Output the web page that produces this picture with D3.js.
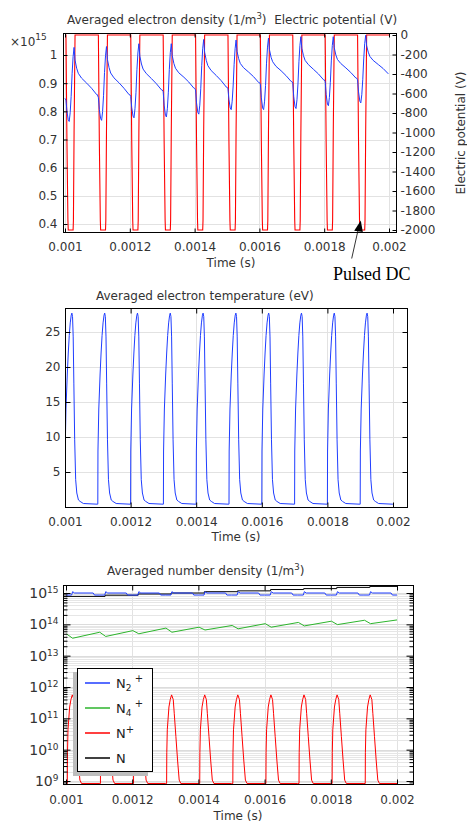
<!DOCTYPE html>
<html>
<head>
<meta charset="utf-8">
<script src="https://cdn.jsdelivr.net/npm/d3@7"></script>
<style>
body { margin: 0; background: #fff; }
text { font-family: "DejaVu Sans", sans-serif; }
text.serif { font-family: "Liberation Serif", "Times New Roman", serif; }
</style>
</head>
<body>
<svg id="chart" width="467" height="822"></svg>
<script>
// pulse periods (s)
var cycleStarts = [0.0010, 0.0011, 0.0012, 0.0013, 0.0014, 0.0015, 0.0016, 0.0017, 0.0018, 0.0019];
var tEnd = 0.002;

var timeTicks = [0.001, 0.0012, 0.0014, 0.0016, 0.0018, 0.002];
var densTicks = [0.4, 0.5, 0.6, 0.7, 0.8, 0.9, 1];
var potTicks = [0, -200, -400, -600, -800, -1000, -1200, -1400, -1600, -1800, -2000];
var teTicks = [5, 10, 15, 20, 25];
var logTicks = [1e9, 1e10, 1e11, 1e12, 1e13, 1e14, 1e15];

// averaged electron density (x1e15 1/m3), sampled at densPhase (us into each period)
var densPhase = [0, 3, 6, 10, 13, 16, 19, 22, 25, 28, 31, 36, 41, 51, 67, 82, 98];
var densCycles = [
    [0.846, 0.840, 0.800, 0.770, 0.764, 0.795, 0.853, 0.935, 0.994, 1.027, 0.982, 0.953, 0.935, 0.918, 0.900, 0.882, 0.859],
    [0.859, 0.849, 0.806, 0.774, 0.768, 0.799, 0.857, 0.938, 0.997, 1.030, 0.984, 0.955, 0.936, 0.919, 0.901, 0.882, 0.859],
    [0.859, 0.853, 0.813, 0.783, 0.777, 0.809, 0.866, 0.948, 1.007, 1.040, 0.996, 0.968, 0.950, 0.934, 0.916, 0.898, 0.876],
    [0.876, 0.870, 0.822, 0.786, 0.780, 0.811, 0.868, 0.949, 1.008, 1.040, 0.998, 0.970, 0.953, 0.937, 0.921, 0.904, 0.882],
    [0.882, 0.876, 0.830, 0.796, 0.790, 0.822, 0.880, 0.962, 1.022, 1.055, 1.010, 0.981, 0.962, 0.945, 0.927, 0.909, 0.886],
    [0.886, 0.880, 0.841, 0.812, 0.806, 0.836, 0.890, 0.967, 1.022, 1.053, 1.013, 0.987, 0.970, 0.955, 0.939, 0.923, 0.902],
    [0.902, 0.896, 0.848, 0.812, 0.806, 0.836, 0.892, 0.971, 1.028, 1.060, 1.019, 0.992, 0.976, 0.960, 0.944, 0.927, 0.906],
    [0.906, 0.900, 0.852, 0.816, 0.810, 0.841, 0.897, 0.976, 1.033, 1.065, 1.024, 0.998, 0.981, 0.966, 0.949, 0.933, 0.912],
    [0.912, 0.906, 0.860, 0.826, 0.820, 0.849, 0.903, 0.979, 1.034, 1.065, 1.026, 1.000, 0.984, 0.970, 0.954, 0.938, 0.918],
    [0.918, 0.912, 0.869, 0.836, 0.830, 0.859, 0.912, 0.986, 1.040, 1.070, 1.033, 1.010, 0.995, 0.981, 0.966, 0.952, 0.933]
];

// electric potential (V), one pulse period
var potPhase = [0, 3, 6, 9, 10, 25, 26, 28, 31];
var potPulse = [0, 0, -1100, -1900, -2000, -2000, -1900, -1000, 0];

// averaged electron temperature (eV), one pulse period
var tePhase = [0, 0.5, 3, 7, 10, 13, 16, 19, 21, 23, 25, 27, 29.5, 32.5, 36, 41, 46, 56, 99];
var tePulse = [0.4, 8, 14, 19, 22, 24.5, 26.3, 27.4, 27.7, 27.2, 24.3, 17.7, 9.6, 3.9, 2, 1, 0.8, 0.5, 0.4];

// number densities (1/m3)
var n2Phase = [0, 17, 20, 26, 82, 86];
var n2Pulse = [8.6e14, 8.6e14, 1.1e15, 1.0e15, 1.0e15, 8.6e14];
var n4Peak = [4.9e13, 5.6e13, 6.3e13, 7.6e13, 8.1e13, 9.2e13, 1.05e14, 1.15e14, 1.26e14, 1.35e14];
var n4Min = [3.6e13, 4.1e13, 5.0e13, 5.6e13, 6.6e13, 7.2e13, 8.1e13, 8.9e13, 9.8e13, 1.05e14];
var n4Last = 1.38e14;
var npPhase = [0, 4, 4.5, 6, 11, 15, 19, 24, 27, 32, 37, 42, 47];
var npPulse = [8.3e8, 8.3e8, 8e9, 4.3e10, 2.3e11, 4e11, 5.6e11, 4e11, 1.45e11, 2.6e10, 4.7e9, 1.07e9, 8.3e8];
var nLevels = [7.8e14, 8.5e14, 9.3e14, 1.0e15, 1.1e15, 1.17e15, 1.29e15, 1.38e15, 1.51e15, 1.62e15];

var BLUE = "#1f3dff", RED = "#ff0000", GREEN = "#2cb52c", GRID = "#e2e2e2";
var FONT = "DejaVu Sans, sans-serif";

var svg = d3.select("#chart");

function series(phase, rows) {
    var pts = [];
    cycleStarts.forEach(function(t0, i) {
        var vals = Array.isArray(rows[0]) ? rows[i] : rows;
        phase.forEach(function(p, j) { pts.push([t0 + p * 1e-6, vals[j]]); });
    });
    return pts;
}

function setupPanel(id, box) {
    svg.append("clipPath").attr("id", id).append("rect")
        .attr("x", box.l).attr("y", box.t)
        .attr("width", box.r - box.l).attr("height", box.b - box.t);
    return {
        grid: svg.append("g"),
        plot: svg.append("g").attr("clip-path", "url(#" + id + ")"),
        axes: svg.append("g")
    };
}

function px(v) { return Math.round(v) + 0.5; }

function gridX(layer, x, ticks, box) {
    layer.selectAll(null).data(ticks).enter().append("line")
        .attr("x1", function(d) { return px(x(d)); })
        .attr("x2", function(d) { return px(x(d)); })
        .attr("y1", box.t).attr("y2", box.b)
        .attr("stroke", GRID);
}

function gridY(layer, y, ticks, box, color) {
    layer.selectAll(null).data(ticks).enter().append("line")
        .attr("y1", function(d) { return px(y(d)); })
        .attr("y2", function(d) { return px(y(d)); })
        .attr("x1", box.l).attr("x2", box.r)
        .attr("stroke", color || GRID);
}

function styleAxis(sel) {
    sel.attr("font-size", 12).attr("font-family", FONT);
    sel.select(".domain").remove();
    sel.selectAll(".tick line").attr("stroke", "#000");
    sel.selectAll(".tick text").attr("fill", "#333");
    return sel;
}

function frame(layer, box) {
    layer.append("rect")
        .attr("x", box.l).attr("y", box.t)
        .attr("width", box.r - box.l).attr("height", box.b - box.t)
        .attr("fill", "none").attr("stroke", "#000");
}

function label(txt, x, y, anchor) {
    return svg.append("text").attr("x", x).attr("y", y)
        .attr("text-anchor", anchor || "middle")
        .attr("font-size", 12).attr("fill", "#333").text(txt);
}

// ---------- panel A: electron density + potential ----------
var boxA = {l: 63.5, r: 396.5, t: 33.5, b: 232.5};
var xA = d3.scaleLinear().domain([0.001, 0.002]).range([65, 389]);
var yA = d3.scaleLinear().domain([0.4, 1]).range([224, 55]);
var yP = d3.scaleLinear().domain([-2000, 0]).range([230, 35]);
var pA = setupPanel("clipA", boxA);
gridX(pA.grid, xA, timeTicks, boxA);
gridY(pA.grid, yA, densTicks, boxA);

var potData = series(potPhase, potPulse);
potData.push([tEnd, 0]);
pA.plot.append("path").datum(potData)
    .attr("fill", "none").attr("stroke", RED).attr("stroke-width", 1.1)
    .attr("d", d3.line().x(function(d) { return xA(d[0]); }).y(function(d) { return yP(d[1]); }));

var densData = series(densPhase, densCycles);
pA.plot.append("path").datum(densData)
    .attr("fill", "none").attr("stroke", BLUE).attr("stroke-width", 1)
    .attr("d", d3.line().x(function(d) { return xA(d[0]); }).y(function(d) { return yA(d[1]); }));

frame(pA.axes, boxA);
styleAxis(pA.axes.append("g").attr("transform", "translate(0," + boxA.b + ")")
    .call(d3.axisBottom(xA).tickValues(timeTicks).tickSize(-4).tickPadding(10).tickFormat(String)));
styleAxis(pA.axes.append("g").attr("transform", "translate(0," + boxA.t + ")")
    .call(d3.axisTop(xA).tickValues(timeTicks).tickSize(-4).tickFormat("")));
styleAxis(pA.axes.append("g").attr("transform", "translate(" + boxA.l + ",0)")
    .call(d3.axisLeft(yA).tickValues(densTicks).tickSize(-4).tickPadding(6).tickFormat(String)));
styleAxis(pA.axes.append("g").attr("transform", "translate(" + boxA.r + ",0)")
    .call(d3.axisRight(yP).tickValues(potTicks).tickSize(-4).tickPadding(4).tickFormat(String)));

var tA = svg.append("text").attr("x", 67).attr("y", 24).attr("font-size", 12).attr("fill", "#333");
tA.append("tspan").text("Averaged electron density (1/m");
tA.append("tspan").attr("dy", -5).attr("font-size", 8.5).text("3");
tA.append("tspan").attr("dy", 5).text(")\u00a0\u00a0Electric potential (V)");

var ex = svg.append("text").attr("x", 10).attr("y", 46).attr("font-size", 12).attr("fill", "#333");
ex.append("tspan").text("\u00d710");
ex.append("tspan").attr("dy", -6).attr("font-size", 9).text("15");

label("Time (s)", 231, 267);
svg.append("text").attr("transform", "translate(465,133) rotate(-90)")
    .attr("text-anchor", "middle").attr("font-size", 12).attr("fill", "#333")
    .text("Electric potential (V)");

// annotation
svg.append("line").attr("x1", 351.7).attr("y1", 258.5).attr("x2", 358.3).attr("y2", 229)
    .attr("stroke", "#000").attr("stroke-width", 0.8);
svg.append("polygon").attr("points", "360.8,220.5 354.2,230.8 362.8,232").attr("fill", "#000");
svg.append("text").attr("class", "serif").attr("x", 333).attr("y", 280)
    .attr("font-size", 18).attr("fill", "#000").text("Pulsed DC");

// ---------- panel B: electron temperature ----------
var boxB = {l: 65.5, r: 407.5, t: 308.5, b: 507.5};
var xB = d3.scaleLinear().domain([0.001, 0.002]).range([65, 393]);
var yB = d3.scaleLinear().domain([5, 25]).range([472, 332]);
var pB = setupPanel("clipB", boxB);
gridX(pB.grid, xB, timeTicks, boxB);
gridY(pB.grid, yB, teTicks, boxB);

var teData = series(tePhase, tePulse);
teData.push([tEnd, 0.4]);
pB.plot.append("path").datum(teData)
    .attr("fill", "none").attr("stroke", BLUE).attr("stroke-width", 1)
    .attr("d", d3.line().x(function(d) { return xB(d[0]); }).y(function(d) { return yB(d[1]); }));

frame(pB.axes, boxB);
styleAxis(pB.axes.append("g").attr("transform", "translate(0," + boxB.b + ")")
    .call(d3.axisBottom(xB).tickValues(timeTicks).tickSize(-5).tickPadding(9.5).tickFormat(String)));
styleAxis(pB.axes.append("g").attr("transform", "translate(0," + boxB.t + ")")
    .call(d3.axisTop(xB).tickValues(timeTicks).tickSize(-5).tickFormat("")));
styleAxis(pB.axes.append("g").attr("transform", "translate(" + boxB.l + ",0)")
    .call(d3.axisLeft(yB).tickValues(teTicks).tickSize(-5).tickPadding(5).tickFormat(String)));
styleAxis(pB.axes.append("g").attr("transform", "translate(" + boxB.r + ",0)")
    .call(d3.axisRight(yB).tickValues(teTicks).tickSize(-5).tickFormat("")));

label("Averaged electron temperature (eV)", 96, 299.5, "start");
label("Time (s)", 236, 541);

// ---------- panel C: number densities ----------
var boxC = {l: 63.5, r: 413.5, t: 585.5, b: 784.5};
var xC = d3.scaleLinear().domain([0.001, 0.002]).range([66, 397]);
var yC = d3.scaleLog().domain([1e9, 1e15]).range([781, 593]);
var minorTicks = [];
d3.range(8, 16).forEach(function(e) {
    d3.range(2, 10).forEach(function(m) {
        var v = m * Math.pow(10, e);
        if (yC(v) > boxC.t && yC(v) < boxC.b) minorTicks.push(v);
    });
});
var pC = setupPanel("clipC", boxC);
gridX(pC.grid, xC, timeTicks, boxC);
gridY(pC.grid, yC, minorTicks, boxC, "#e6e6e6");
gridY(pC.grid, yC, logTicks, boxC, "#dcdcdc");

var lineC = d3.line().x(function(d) { return xC(d[0]); }).y(function(d) { return yC(d[1]); });

var nData = [[0.001, nLevels[0]]];
cycleStarts.forEach(function(t0, i) {
    if (i > 0) nData.push([t0 + 18e-6, nLevels[i]]);
});
nData.push([tEnd, nLevels[nLevels.length - 1]]);
pC.plot.append("path").datum(nData)
    .attr("fill", "none").attr("stroke", "#000").attr("stroke-width", 1)
    .attr("d", lineC.curve(d3.curveStepAfter));
lineC.curve(d3.curveLinear);

var n2Data = series(n2Phase, n2Pulse);
n2Data.push([tEnd, n2Pulse[n2Pulse.length - 1]]);
pC.plot.append("path").datum(n2Data)
    .attr("fill", "none").attr("stroke", BLUE).attr("stroke-width", 1)
    .attr("d", lineC);

var n4Data = [];
cycleStarts.forEach(function(t0, i) {
    n4Data.push([t0 + 2e-6, n4Peak[i]]);
    n4Data.push([t0 + 20e-6, n4Min[i]]);
});
n4Data.push([tEnd, n4Last]);
pC.plot.append("path").datum(n4Data)
    .attr("fill", "none").attr("stroke", GREEN).attr("stroke-width", 1)
    .attr("d", lineC);

var npData = series(npPhase, npPulse);
npData.push([tEnd, npPulse[0]]);
pC.plot.append("path").datum(npData)
    .attr("fill", "none").attr("stroke", RED).attr("stroke-width", 1)
    .attr("d", lineC);

frame(pC.axes, boxC);
styleAxis(pC.axes.append("g").attr("transform", "translate(0," + boxC.b + ")")
    .call(d3.axisBottom(xC).tickValues(timeTicks).tickSize(-5).tickPadding(10.5).tickFormat(String)));
styleAxis(pC.axes.append("g").attr("transform", "translate(0," + boxC.t + ")")
    .call(d3.axisTop(xC).tickValues(timeTicks).tickSize(-5).tickFormat("")));
var leftC = styleAxis(pC.axes.append("g").attr("transform", "translate(" + boxC.l + ",0)")
    .call(d3.axisLeft(yC).tickValues(logTicks).tickSize(-7).tickPadding(5).tickFormat(function() { return ""; })));
leftC.selectAll(".tick text").each(function(d) {
    var t = d3.select(this).attr("font-size", 14);
    t.append("tspan").text("10");
    t.append("tspan").attr("dy", "-0.55em").attr("font-size", 9).text(Math.round(Math.log10(d)));
});
styleAxis(pC.axes.append("g").attr("transform", "translate(" + boxC.l + ",0)")
    .call(d3.axisLeft(yC).tickValues(minorTicks).tickSize(-4).tickFormat("")));
styleAxis(pC.axes.append("g").attr("transform", "translate(" + boxC.r + ",0)")
    .call(d3.axisRight(yC).tickValues(logTicks).tickSize(-7).tickFormat("")));
styleAxis(pC.axes.append("g").attr("transform", "translate(" + boxC.r + ",0)")
    .call(d3.axisRight(yC).tickValues(minorTicks).tickSize(-4).tickFormat("")));

var tC = svg.append("text").attr("x", 107).attr("y", 575).attr("font-size", 12).attr("fill", "#333");
tC.append("tspan").text("Averaged number density (1/m");
tC.append("tspan").attr("dy", -5).attr("font-size", 8.5).text("3");
tC.append("tspan").attr("dy", 5).text(")");
label("Time (s)", 238, 820);

// legend
var legendItems = [
    {base: "N", sub: "2", sup: "+", color: BLUE},
    {base: "N", sub: "4", sup: "+", color: GREEN},
    {base: "N", sup: "+", color: RED},
    {base: "N", color: "#000"}
];
var leg = svg.append("g");
leg.append("rect").attr("x", 73).attr("y", 672).attr("width", 75).attr("height", 104).attr("fill", "#bdbdbd");
leg.append("rect").attr("x", 77.5).attr("y", 668.5).attr("width", 75).attr("height", 103)
    .attr("fill", "#fff").attr("stroke", "#000");
var legY = d3.scalePoint().domain(d3.range(legendItems.length)).range([683, 758]);
legendItems.forEach(function(it, i) {
    var y = legY(i);
    leg.append("line").attr("x1", 85).attr("x2", 110).attr("y1", y).attr("y2", y)
        .attr("stroke", it.color).attr("stroke-width", 1.5);
    var t = leg.append("text").attr("x", 116).attr("y", y + 5).attr("font-size", 13).attr("fill", "#222");
    t.append("tspan").text(it.base);
    if (it.sub) {
        t.append("tspan").attr("dy", 3).attr("font-size", 9).text(it.sub);
        t.append("tspan").attr("dy", -9).attr("font-size", 10).text("\u00a0+");
    } else if (it.sup) {
        t.append("tspan").attr("dy", -5).attr("font-size", 10).text("+");
    }
});
</script>
</body>
</html>
